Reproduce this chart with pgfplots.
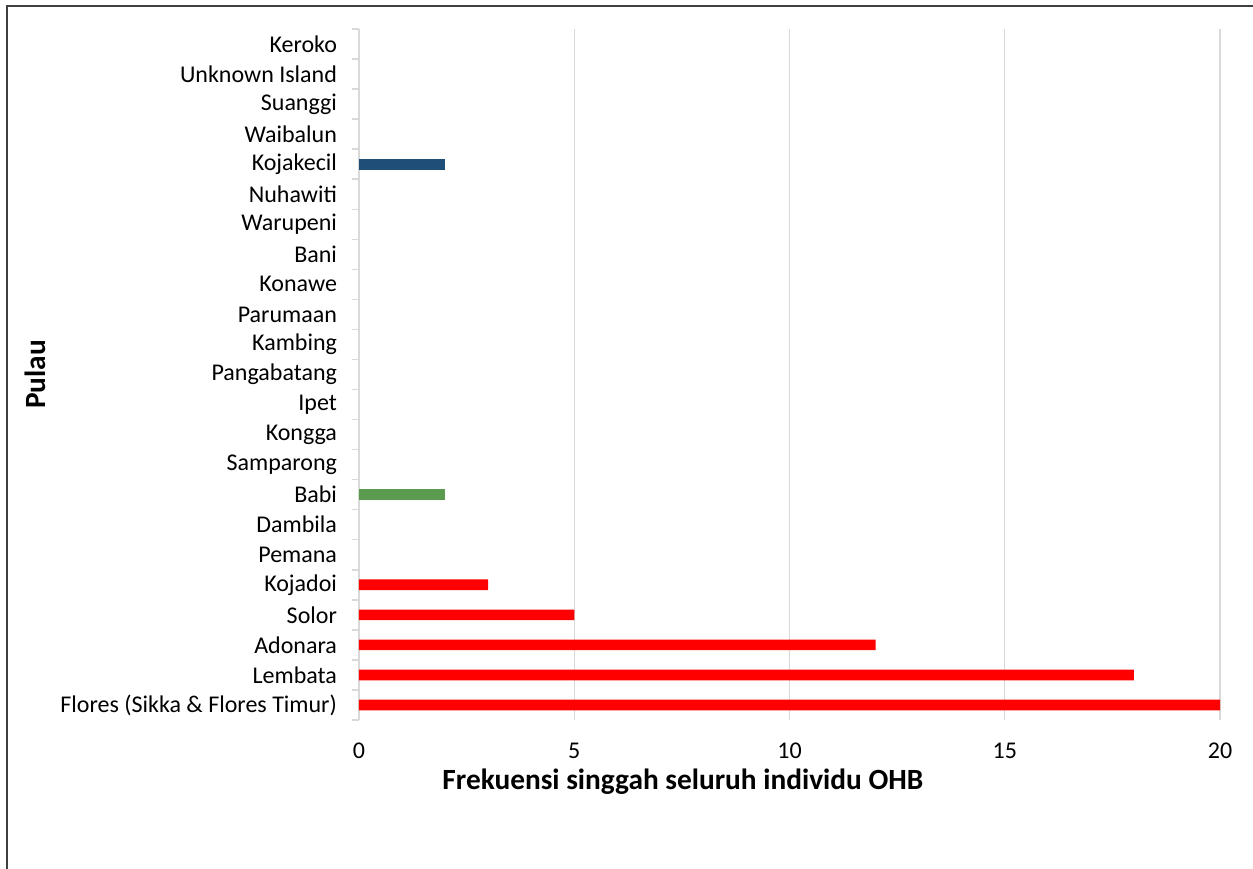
\documentclass[border=0pt]{standalone}
\usepackage{pgfplots}
\pgfplotsset{compat=1.18}
\usepackage{fontspec}
\setmainfont{Carlito}
\definecolor{barred}{HTML}{FF0000}
\definecolor{bargreen}{HTML}{5B9B50}
\definecolor{barblue}{HTML}{1F4E79}
\definecolor{gridgray}{HTML}{D9D9D9}
\definecolor{framegray}{HTML}{404040}
\begin{document}
\begin{tikzpicture}[x=0.75pt,y=0.75pt]
\useasboundingbox (0,0) rectangle (1253,868);
\fill[white] (0,0) rectangle (1253,868);
\draw[framegray,line width=1.5] (7,-20) -- (7,862) -- (1280,862);
\begin{axis}[
  at={(359*0.75pt,148*0.75pt)}, anchor=south west,
  scale only axis,
  width=645.75pt, height=518.25pt,
  xbar, bar width=8pt,
  xmin=0, xmax=20,
  ymin=-0.5, ymax=22.5,
  xtick={0,5,...,20},
  ytick={0,...,22},
  ytick pos=left,
  yticklabels={Flores (Sikka \& Flores Timur),Lembata,Adonara,Solor,Kojadoi,Pemana,Dambila,Babi,Samparong,Kongga,Ipet,Pangabatang,Kambing,Parumaan,Konawe,Bani,Warupeni,Nuhawiti,Kojakecil,Waibalun,Suanggi,Unknown Island,Keroko},
  minor ytick={-0.5,0.5,...,22.5},
  major tick length=0pt,
  minor tick length=5.25pt,
  tick align=outside,
  minor tick style={gridgray,line width=1.1pt},
  xmajorgrids, grid style={gridgray,line width=1.1pt},
  axis line style={draw=none},
  tick label style={font=\fontsize{18}{20}\selectfont, text=black},
  /pgf/number format/assume math mode=true,
  yticklabel style={xshift=-13pt},
  xticklabel style={yshift=-14pt},
  xlabel={\textbf{Frekuensi singgah seluruh individu OHB}},
  ylabel={\textbf{Pulau}},
  label style={font=\fontsize{22}{24}\selectfont},
  xlabel style={at={(axis description cs:0.5,0)}, anchor=center, yshift=-46pt, xshift=-80pt},
  ylabel style={at={(axis description cs:0,0.5)}, anchor=center, rotate=0, yshift=243pt},
  clip=false,
]
\addplot[fill=barred, draw=none, bar shift=0pt] coordinates {(20,0) (18,1) (12,2) (5,3) (3,4)};
\addplot[fill=bargreen, draw=none, bar shift=0pt] coordinates {(2,7)};
\addplot[fill=barblue, draw=none, bar shift=0pt] coordinates {(2,18)};
\end{axis}
\end{tikzpicture}
\end{document}
